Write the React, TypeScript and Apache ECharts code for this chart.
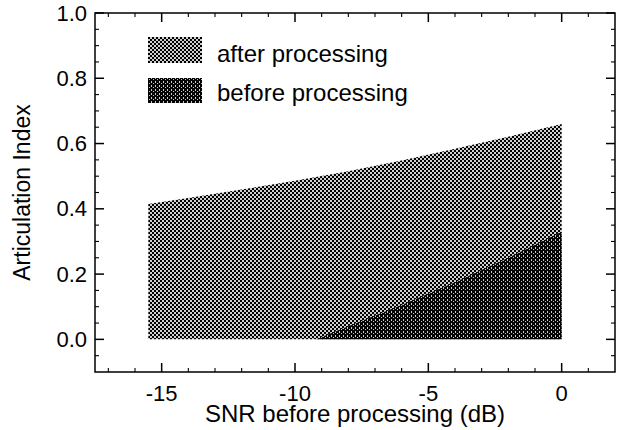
import React, { useEffect, useRef } from "react";
import * as echarts from "echarts";

// after processing (upper boundary)
const afterX = [-15.5, -14, -12, -10, -8, -6, -4, -2, 0];
const afterY = [0.415, 0.433, 0.459, 0.486, 0.515, 0.548, 0.584, 0.621, 0.66];
// before processing (upper boundary)
const beforeX = [-9.2, -8, -6, -4, -2, 0];
const beforeY = [0, 0.04, 0.105, 0.175, 0.25, 0.33];

const xMajor = [-15, -10, -5, 0];
const xMinor = [-17, -16, -14, -13, -12, -11, -9, -8, -7, -6, -4, -3, -2, -1, 1];
const yMajor = [0, 0.2, 0.4, 0.6, 0.8, 1.0];
const yMinor = [-0.05, 0.05, 0.1, 0.15, 0.25, 0.3, 0.35, 0.45, 0.5, 0.55, 0.65, 0.7, 0.75, 0.85, 0.9, 0.95];

const seriesNames = ["after processing", "before processing"];

const FONT = "Liberation Sans, Arial, Helvetica, sans-serif";

const X_MIN = -17.5;
const X_MAX = 2;
const Y_MIN = -0.1;
const Y_MAX = 1.0;
const MAJOR_LEN = 9;
const MINOR_LEN = 4;

function makePattern(kind: "after" | "before") {
  const c = document.createElement("canvas");
  c.width = 4;
  c.height = 4;
  const ctx = c.getContext("2d")!;
  if (kind === "after") {
    ctx.fillStyle = "#cfcfcf";
    ctx.fillRect(0, 0, 4, 4);
    ctx.fillStyle = "#000";
    ctx.fillRect(0, 0, 2, 2);
    ctx.fillRect(2, 2, 2, 2);
  } else {
    ctx.fillStyle = "#040404";
    ctx.fillRect(0, 0, 4, 4);
    ctx.fillStyle = "#c8c8c8";
    ctx.fillRect(1, 1, 1, 1);
    ctx.fillRect(3, 3, 1, 1);
    ctx.fillRect(3, 0, 1, 1);
  }
  return { image: c, repeat: "repeat", imageWidth: 4, imageHeight: 4 } as any;
}

export default function App() {
  const ref = useRef<HTMLDivElement>(null);
  useEffect(() => {
    if (!ref.current) return;
    const chart = echarts.init(ref.current, null, { renderer: "svg" });
    const afterPat = makePattern("after");
    const beforePat = makePattern("before");

    const afterData = afterX.map((x, i) => [x, afterY[i]]);
    const beforeData = beforeX.map((x, i) => [x, beforeY[i]]);

    chart.setOption({
      animation: false,
      backgroundColor: "#fff",
      grid: {
        left: 95,
        top: 13,
        right: 4,
        bottom: 58,
        containLabel: false,
        outerBoundsMode: "none",
        show: true,
        borderColor: "#000",
        borderWidth: 1.5,
        backgroundColor: "transparent",
      },
      xAxis: {
        type: "value",
        min: X_MIN,
        max: X_MAX,
        axisLine: { show: false, onZero: false },
        axisTick: { show: false },
        axisLabel: {
          show: true,
          customValues: xMajor,
          fontSize: 22,
          color: "#000",
          fontFamily: FONT,
          margin: 10,
        },
        splitLine: { show: false },
        name: "SNR before processing (dB)",
        nameLocation: "middle",
        nameGap: 29,
        nameMoveOverlap: false,
        nameTextStyle: { fontSize: 24, color: "#000", fontFamily: FONT },
      },
      yAxis: {
        type: "value",
        min: Y_MIN,
        max: Y_MAX,
        axisLine: { show: false, onZero: false },
        axisTick: { show: false },
        axisLabel: {
          show: true,
          customValues: yMajor,
          fontSize: 22,
          color: "#000",
          fontFamily: FONT,
          margin: 8,
          formatter: (v: number) => v.toFixed(1),
        },
        splitLine: { show: false },
        name: "Articulation Index",
        nameLocation: "middle",
        nameGap: 62,
        nameTextStyle: { fontSize: 23, color: "#000", fontFamily: FONT },
      },
      series: [
        {
          name: seriesNames[0],
          type: "line",
          data: afterData,
          symbol: "none",
          lineStyle: { width: 0 },
          areaStyle: { color: afterPat, opacity: 1, origin: 0 },
        },
        {
          name: seriesNames[1],
          type: "line",
          data: beforeData,
          symbol: "none",
          lineStyle: { width: 0 },
          areaStyle: { color: beforePat, opacity: 1, origin: 0 },
        },
      ],
    });

    // frame ticks placed through the chart's own scales (thin filled rects)
    const toPx = (x: number, y: number) =>
      chart.convertToPixel({ gridIndex: 0 } as any, [x, y]) as number[];
    const bar = (x: number, y: number, w: number, h: number) => ({
      type: "rect",
      silent: true,
      z: 100,
      shape: { x, y, width: w, height: h },
      style: { fill: "#000" },
    });
    const ticks: any[] = [];
    const addX = (vals: number[], len: number, w: number) =>
      vals.forEach((v) => {
        const b = toPx(v, Y_MIN);
        const t = toPx(v, Y_MAX);
        if (!b || !t) return;
        ticks.push(bar(b[0] - w / 2, b[1] - len, w, len));
        ticks.push(bar(t[0] - w / 2, t[1], w, len));
      });
    const addY = (vals: number[], len: number, w: number) =>
      vals.forEach((v) => {
        const l = toPx(X_MIN, v);
        const r = toPx(X_MAX, v);
        if (!l || !r) return;
        ticks.push(bar(l[0], l[1] - w / 2, len, w));
        ticks.push(bar(r[0] - len, r[1] - w / 2, len, w));
      });
    addX(xMajor, MAJOR_LEN, 1.5);
    addX(xMinor, MINOR_LEN, 1.1);
    addY(yMajor, MAJOR_LEN, 1.5);
    addY(yMinor, MINOR_LEN, 1.1);

    chart.setOption({
      graphic: [
        { type: "rect", left: 148, top: 37, shape: { width: 54, height: 26 }, style: { fill: afterPat } },
        {
          type: "text",
          left: 217,
          top: 41,
          style: { text: seriesNames[0], fontSize: 24, fontFamily: FONT, fill: "#000" },
        },
        { type: "rect", left: 148, top: 78, shape: { width: 54, height: 25 }, style: { fill: beforePat } },
        {
          type: "text",
          left: 217,
          top: 80,
          style: { text: seriesNames[1], fontSize: 24, fontFamily: FONT, fill: "#000" },
        },
        ...ticks,
      ],
    });
    return () => chart.dispose();
  }, []);
  return (
    <div
      ref={ref}
      style={{ position: "absolute", left: 0, top: 0, width: 619, height: 430, background: "#fff" }}
    />
  );
}
